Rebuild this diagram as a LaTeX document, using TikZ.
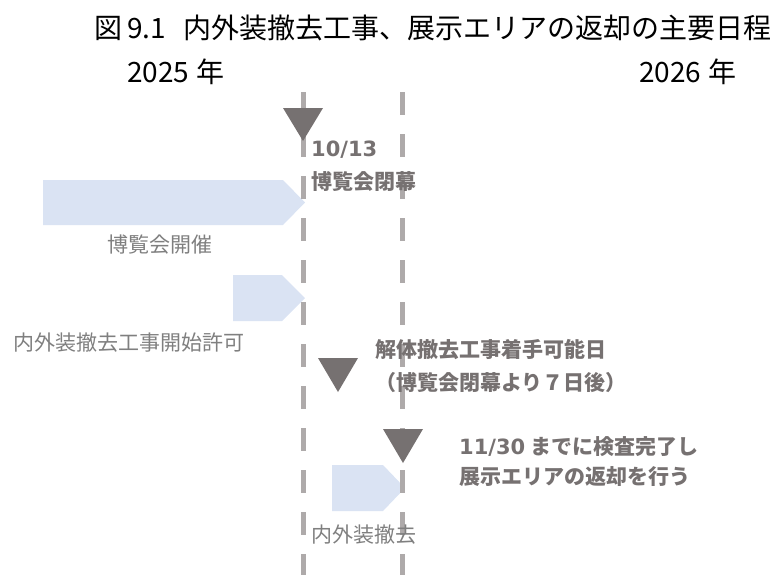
\documentclass[tikz,border=0pt]{standalone}
\usepackage{fontspec}
\setmainfont{Noto Sans CJK JP}
\newfontfamily\dvs{DejaVu Sans}
\definecolor{linegray}{HTML}{AEAAAA}
\definecolor{trigray}{HTML}{767171}
\definecolor{lblue}{HTML}{DAE3F3}
\definecolor{txtgray}{HTML}{7F7F7F}
\definecolor{boldgray}{HTML}{767171}
\begin{document}
\begin{tikzpicture}[x=1pt,y=-1pt,
  dline/.style={line width=5pt, draw=linegray, dash pattern=on 23pt off 19pt},
  tri/.style={fill=trigray},
  barrow/.style={fill=lblue},
  blab/.style={font=\fontsize{21}{33}\selectfont\bfseries, text=boldgray, inner sep=0pt, align=left, anchor=west},
  nlab/.style={font=\fontsize{21}{26}\selectfont, text=txtgray, inner sep=0pt},
  tlab/.style={font=\fontsize{28}{34}\selectfont, text=black, inner sep=0pt, anchor=west}]
\useasboundingbox (0,0) rectangle (776,574);
% arrows (bars)
\fill[barrow] (43,180) -- (283,180) -- (305,202.5) -- (283,225) -- (43,225) -- cycle;
\fill[barrow] (233,275) -- (282,275) -- (305,298) -- (282,321) -- (233,321) -- cycle;
\fill[barrow] (332,465) -- (383,465) -- (405,488) -- (383,511) -- (332,511) -- cycle;
% dashed lines
\coordinate (l1t) at (303,92); \coordinate (l1b) at (303,580);
\coordinate (l2t) at (402,92); \coordinate (l2b) at (402,580);
\draw[dline] (l1t) -- (l1b);
\draw[dline] (l2t) -- (l2b);
% triangles
\fill[tri] (283,108) -- (323,108) -- (303,141) -- cycle;
\fill[tri] (318,358) -- (358,358) -- (338,392) -- cycle;
\fill[tri] (383,429) -- (423,429) -- (403,463) -- cycle;
% texts
\node[tlab] (title) at (94,28) {図\hspace{5pt}9.1\hspace{17pt}内外装撤去工事、展示エリアの返却の主要日程};
\node[tlab] (y1) at (127,72) {2025\hspace{7pt}年};
\node[tlab] (y2) at (639,72) {2026\hspace{7pt}年};
\node[blab] (close) at (311,166.5) {{\dvs\bfseries 10/13}\\博覧会閉幕};
\node[nlab] (expo) at (160,245) {博覧会開催};
\node[nlab] (perm) at (129,343) {内外装撤去工事開始許可};
\node[blab] (start) at (375,366.5) {解体撤去工事着手可能日\\（博覧会閉幕より７日後）};
\node[blab, font=\fontsize{21}{30}\selectfont\bfseries] (ret) at (459,462) {{\dvs\bfseries 11/30} までに検査完了し\\展示エリアの返却を行う};
\node[nlab] (rem) at (364,535) {内外装撤去};
\end{tikzpicture}
\end{document}
